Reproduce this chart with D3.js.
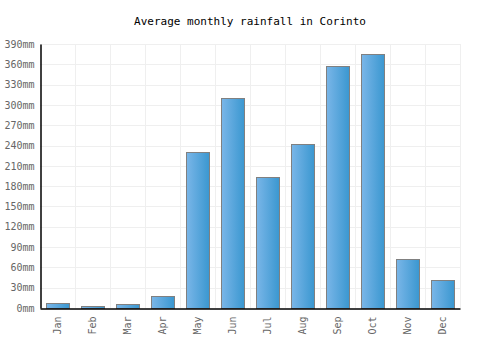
<!DOCTYPE html>
<html>
<head>
<meta charset="utf-8">
<script src="https://cdn.jsdelivr.net/npm/d3@7"></script>
<style>
	body { margin: 0; background: #fff; }
	text { font-family: "DejaVu Sans Mono", monospace; }
</style>
</head>
<body>
<div id="chart"></div>
<script>

	let months = ["Jan", "Feb", "Mar", "Apr", "May", "Jun", "Jul", "Aug", "Sep", "Oct", "Nov", "Dec"];
	let rainfall = [8, 3, 6, 17, 231, 310, 193, 243, 357, 375, 72, 41];
	let yTicks = [0, 30, 60, 90, 120, 150, 180, 210, 240, 270, 300, 330, 360, 390];

	let width = 500;
	let height = 350;
	let margin = { top: 44, right: 40, bottom: 42, left: 40 };

	let svg = d3.select('#chart')
		.append('svg')
		.attr('width', width)
		.attr('height', height);

	// bar gradient
	let grad = svg.append('defs')
		.append('linearGradient')
		.attr('id', 'barGrad')
		.attr('x1', '0%').attr('x2', '100%')
		.attr('y1', '0%').attr('y2', '0%');
	grad.append('stop').attr('offset', '0%').attr('stop-color', '#7ab6e8');
	grad.append('stop').attr('offset', '100%').attr('stop-color', '#3a97d0');

	let x = d3.scaleBand()
		.domain(months)
		.range([margin.left, width - margin.right])
		.paddingInner(0.34)
		.paddingOuter(0.17);

	let y = d3.scaleLinear()
		.domain([0, 390])
		.range([height - margin.bottom, margin.top]);

	// grid
	let step = x.step();
	let gridG = svg.append('g');
	gridG.selectAll('line.h')
		.data(yTicks.slice(1))
		.enter()
		.append('line')
		.attr('x1', margin.left)
		.attr('x2', width - margin.right)
		.attr('y1', d => Math.round(y(d)) + 0.5)
		.attr('y2', d => Math.round(y(d)) + 0.5)
		.attr('stroke', '#efefef');
	gridG.selectAll('line.v')
		.data(months)
		.enter()
		.append('line')
		.attr('x1', (d, i) => Math.round(margin.left + step * (i + 1)) + 0.5)
		.attr('x2', (d, i) => Math.round(margin.left + step * (i + 1)) + 0.5)
		.attr('y1', margin.top)
		.attr('y2', height - margin.bottom)
		.attr('stroke', '#efefef');

	// bars
	svg.selectAll('rect.bar')
		.data(rainfall)
		.enter()
		.append('rect')
		.attr('class', 'bar')
		.attr('x', (d, i) => Math.round(x(months[i])) + 0.5)
		.attr('y', d => Math.round(y(d)) + 0.5)
		.attr('width', Math.round(x.bandwidth()))
		.attr('height', d => Math.round(y(0)) - Math.round(y(d)))
		.attr('fill', 'url(#barGrad)')
		.attr('stroke', '#808080')
		.attr('stroke-width', 1);

	// y axis
	let yAxis = svg.append('g')
		.attr('transform', `translate(${margin.left + 0.5},0)`)
		.call(d3.axisLeft(y).tickValues(yTicks).tickSize(0).tickPadding(6).tickFormat(d => d + 'mm'));
	yAxis.select('.domain').attr('stroke', '#000').attr('stroke-width', 1.5);
	yAxis.selectAll('text')
		.style('font-family', '"DejaVu Sans Mono", monospace')
		.style('font-size', '10px')
		.style('fill', '#666');

	// x axis
	let xAxis = svg.append('g')
		.attr('transform', `translate(0,${height - margin.bottom + 0.5})`)
		.call(d3.axisBottom(x).tickSize(0));
	xAxis.select('.domain').attr('stroke', '#000').attr('stroke-width', 1.5);
	xAxis.selectAll('text')
		.style('font-family', '"DejaVu Sans Mono", monospace')
		.style('font-size', '10px')
		.style('fill', '#666')
		.attr('transform', 'rotate(-90)')
		.attr('text-anchor', 'end')
		.attr('x', -8)
		.attr('y', 0)
		.attr('dy', '0.35em');

	// title
	svg.append('text')
		.attr('x', width / 2)
		.attr('y', 25)
		.attr('text-anchor', 'middle')
		.style('font-size', '11px')
		.style('fill', '#000')
		.text('Average monthly rainfall in Corinto');

</script>
</body>
</html>
